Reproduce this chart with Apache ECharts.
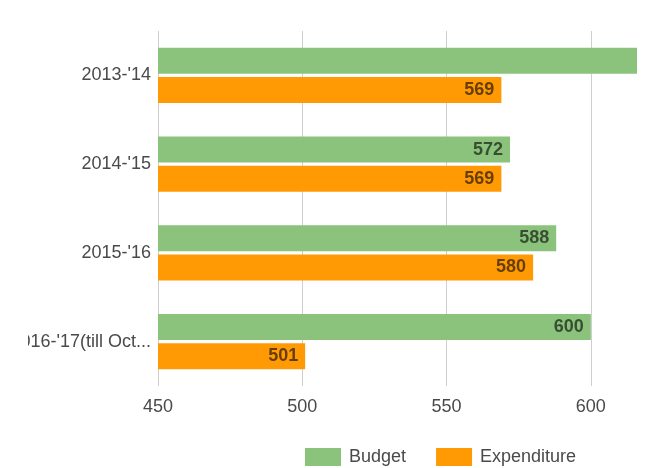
<!DOCTYPE html>
<html>
<head>
<meta charset="utf-8">
<script src="https://cdn.jsdelivr.net/npm/echarts@6/dist/echarts.min.js"></script>
<style>
  html, body { margin: 0; padding: 0; background: #fff; }
  body { width: 650px; height: 468px; position: relative; overflow: hidden; }
  #chart { position: absolute; left: 28px; top: 0; width: 622px; height: 468px; }
</style>
</head>
<body>
<div id="chart"></div>
<script>
// Budget vs expenditure per financial year
const categories = ["2013-'14", "2014-'15", "2015-'16", "2016-'17(till Oct..."];
const budget = [650, 572, 588, 600];
const expenditure = [569, 569, 580, 501];
const axisMin = 450;
const axisMax = 616;
const axisStep = 50;

const FONT = 'Arial, "Liberation Sans", sans-serif';
const GREEN = '#8bc27c';
const ORANGE = '#ff9a05';

// the first budget bar runs past the axis end, so its value label is hidden
const budgetData = budget.map((v) => (v > axisMax ? { value: v, label: { show: false } } : v));

const valueLabel = {
  show: true,
  position: 'insideRight',
  distance: 7,
  fontFamily: FONT,
  fontSize: 18,
  fontWeight: 'bold',
  color: 'rgba(0,0,0,0.6)'
};

const chart = echarts.init(document.getElementById('chart'), null, { renderer: 'canvas' });
chart.setOption({
  animation: false,
  textStyle: { fontFamily: FONT },
  grid: { left: 130, right: 13, top: 31, bottom: 82, containLabel: false, outerBoundsMode: 'none' },
  xAxis: {
    type: 'value',
    min: axisMin,
    max: axisMax,
    interval: axisStep,
    axisLine: { show: false },
    axisTick: { show: false },
    axisLabel: { fontFamily: FONT, fontSize: 18, color: '#4a4a4a', margin: 12, showMaxLabel: false },
    splitLine: { show: true, showMaxLine: false, lineStyle: { color: '#cfcfcf', width: 1 } }
  },
  yAxis: {
    type: 'category',
    inverse: true,
    data: categories,
    axisLine: { show: false },
    axisTick: { show: false },
    axisLabel: { fontFamily: FONT, fontSize: 18, color: '#4a4a4a', margin: 7 }
  },
  legend: {
    left: 277,
    top: 448,
    padding: 0,
    icon: 'rect',
    itemWidth: 36,
    itemHeight: 18,
    itemGap: 30,
    textStyle: { fontFamily: FONT, fontSize: 18, color: '#4a4a4a', padding: [0, 0, 0, 3] },
    data: ['Budget', 'Expenditure']
  },
  series: [
    {
      name: 'Budget',
      type: 'bar',
      data: budgetData,
      barWidth: 26,
      barGap: '12%',
      clip: true,
      itemStyle: { color: GREEN },
      label: valueLabel
    },
    {
      name: 'Expenditure',
      type: 'bar',
      data: expenditure,
      barWidth: 26,
      barGap: '12%',
      clip: true,
      itemStyle: { color: ORANGE },
      label: valueLabel
    }
  ]
});
</script>
</body>
</html>
